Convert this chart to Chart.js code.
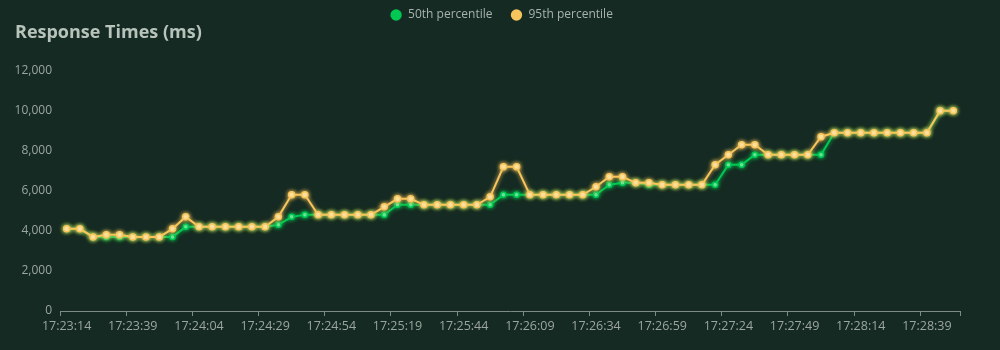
<!DOCTYPE html>
<html>
<head>
<meta charset="utf-8">
<title>Response Times</title>
<script src="https://cdn.jsdelivr.net/npm/chart.js"></script>
<style>
  html, body { margin: 0; padding: 0; background: #152a22; }
  #wrap { width: 1000px; height: 350px; }
</style>
</head>
<body>
<div id="wrap"><canvas id="myChart"></canvas></div>
<script>
// -- ** data ** -- \\
const timeLabels = [
  '17:23:14', '17:23:19', '17:23:24', '17:23:29', '17:23:34', '17:23:39', '17:23:44', '17:23:49', '17:23:54', '17:23:59',
  '17:24:04', '17:24:09', '17:24:14', '17:24:19', '17:24:24', '17:24:29', '17:24:34', '17:24:39', '17:24:44', '17:24:49', '17:24:54', '17:24:59',
  '17:25:04', '17:25:09', '17:25:14', '17:25:19', '17:25:24', '17:25:29', '17:25:34', '17:25:39', '17:25:44', '17:25:49', '17:25:54', '17:25:59',
  '17:26:04', '17:26:09', '17:26:14', '17:26:19', '17:26:24', '17:26:29', '17:26:34', '17:26:39', '17:26:44', '17:26:49', '17:26:54', '17:26:59',
  '17:27:04', '17:27:09', '17:27:14', '17:27:19', '17:27:24', '17:27:29', '17:27:34', '17:27:39', '17:27:44', '17:27:49', '17:27:54', '17:27:59',
  '17:28:04', '17:28:09', '17:28:14', '17:28:19', '17:28:24', '17:28:29', '17:28:34', '17:28:39', '17:28:44', '17:28:49'
];

const p50 = [
  4100, 4100, 3700, 3700, 3700, 3700, 3700, 3700, 3700, 4200, 4200, 4200, 4200, 4200, 4200, 4200, 4300,
  4700, 4800, 4800, 4800, 4800, 4800, 4800, 4800, 5300, 5300, 5300, 5300, 5300, 5300, 5300, 5300,
  5800, 5800, 5800, 5800, 5800, 5800, 5800, 5800, 6300, 6400, 6400, 6300, 6300, 6300, 6300, 6300, 6300,
  7300, 7300, 7800, 7800, 7800, 7800, 7800, 7800, 8900, 8900, 8900, 8900, 8900, 8900, 8900, 8900, 10000, 10000
];

const p95 = [
  4100, 4100, 3700, 3800, 3800, 3700, 3700, 3700, 4100, 4700, 4200, 4200, 4200, 4200, 4200, 4200, 4700,
  5800, 5800, 4800, 4800, 4800, 4800, 4800, 5200, 5600, 5600, 5300, 5300, 5300, 5300, 5300, 5700,
  7200, 7200, 5800, 5800, 5800, 5800, 5800, 6200, 6700, 6700, 6400, 6400, 6300, 6300, 6300, 6300, 7300,
  7800, 8300, 8300, 7800, 7800, 7800, 7800, 8700, 8900, 8900, 8900, 8900, 8900, 8900, 8900, 8900, 10000, 10000
];

const yTicks = [0, 2000, 4000, 6000, 8000, 10000, 12000];

const green = '#00c853';
const yellow = '#f7c55c';
const tickGrey = '#9ba69f';
const labelEvery = 5;

Chart.defaults.font.family = "'Open Sans', 'Noto Sans', sans-serif";
Chart.defaults.color = tickGrey;

// -- ** glow on lines and points ** -- \\
const glowPlugin = {
  id: 'glow',
  beforeDatasetDraw(chart, args) {
    const ctx = chart.ctx;
    ctx.save();
    ctx.shadowColor = args.meta.controller.getDataset().borderColor;
    ctx.shadowBlur = 4;
  },
  afterDatasetDraw(chart) {
    chart.ctx.restore();
  }
};

// -- ** legend centred on the page, not the padded box ** -- \\
const legendShift = {
  id: 'legendShift',
  afterLayout(chart) {
    const lg = chart.legend;
    if (lg) {
      lg.left += 14;
      lg.right += 14;
    }
  }
};

const data = {
  labels: timeLabels,
  datasets: [
    {
      label: '50th percentile',
      data: p50,
      borderColor: green,
      backgroundColor: green,
      borderWidth: 2,
      pointRadius: 2.5,
      pointBorderWidth: 1.5,
      pointBackgroundColor: '#b8f5cc',
      pointBorderColor: green,
      tension: 0,
      order: 1
    },
    {
      label: '95th percentile',
      data: p95,
      borderColor: yellow,
      backgroundColor: yellow,
      borderWidth: 2,
      pointRadius: 3,
      pointBorderWidth: 1.5,
      pointBackgroundColor: '#fff0c6',
      pointBorderColor: yellow,
      tension: 0,
      order: 0
    }
  ]
};

const config = {
  type: 'line',
  data: data,
  plugins: [glowPlugin, legendShift],
  options: {
    responsive: true,
    maintainAspectRatio: false,
    animation: false,
    locale: 'en-US',
    layout: { padding: { left: 15, right: 40, top: -9, bottom: 13 } },
    plugins: {
      legend: {
        position: 'top',
        align: 'center',
        weight: 3000,
        labels: {
          usePointStyle: true,
          pointStyle: 'circle',
          boxWidth: 12,
          boxHeight: 8,
          padding: 18,
          color: '#a9b3ad',
          font: { size: 12 },
          sort: (a, b) => a.datasetIndex - b.datasetIndex,
          generateLabels(chart) {
            const items = Chart.defaults.plugins.legend.labels.generateLabels(chart);
            items.forEach((it) => {
              it.fillStyle = it.strokeStyle;
              it.lineWidth = 0;
            });
            return items;
          }
        }
      },
      title: {
        display: true,
        text: 'Response Times (ms)',
        align: 'start',
        weight: 500,
        color: '#b7c3bb',
        font: { size: 18, weight: 'bold' },
        padding: { top: -9, bottom: 27 }
      },
      tooltip: { enabled: false }
    },
    scales: {
      x: {
        offset: true,
        grid: {
          display: true,
          offset: true,
          drawOnChartArea: false,
          drawTicks: true,
          tickLength: 5,
          tickColor: (ctx) => (ctx.index === undefined || ctx.index % labelEvery === 0) ? '#7f8c85' : 'rgba(0,0,0,0)'
        },
        border: { display: true, color: '#7f8c85', width: 1 },
        ticks: {
          autoSkip: false,
          maxRotation: 0,
          minRotation: 0,
          padding: 3,
          color: tickGrey,
          font: { size: 12.5 },
          callback: function (val, i) {
            return i % labelEvery === 0 ? this.getLabelForValue(val) : '';
          }
        }
      },
      y: {
        min: yTicks[0],
        max: yTicks[yTicks.length - 1],
        grid: { display: false, drawTicks: false },
        border: { display: false },
        afterBuildTicks: (axis) => {
          axis.ticks = yTicks.map((v) => ({ value: v }));
        },
        afterFit: (axis) => {
          axis.width = 45;
        },
        ticks: {
          padding: 8,
          color: tickGrey,
          font: { size: 12 }
        }
      }
    }
  }
};

const myChart = new Chart(document.getElementById('myChart'), config);
</script>
</body>
</html>
